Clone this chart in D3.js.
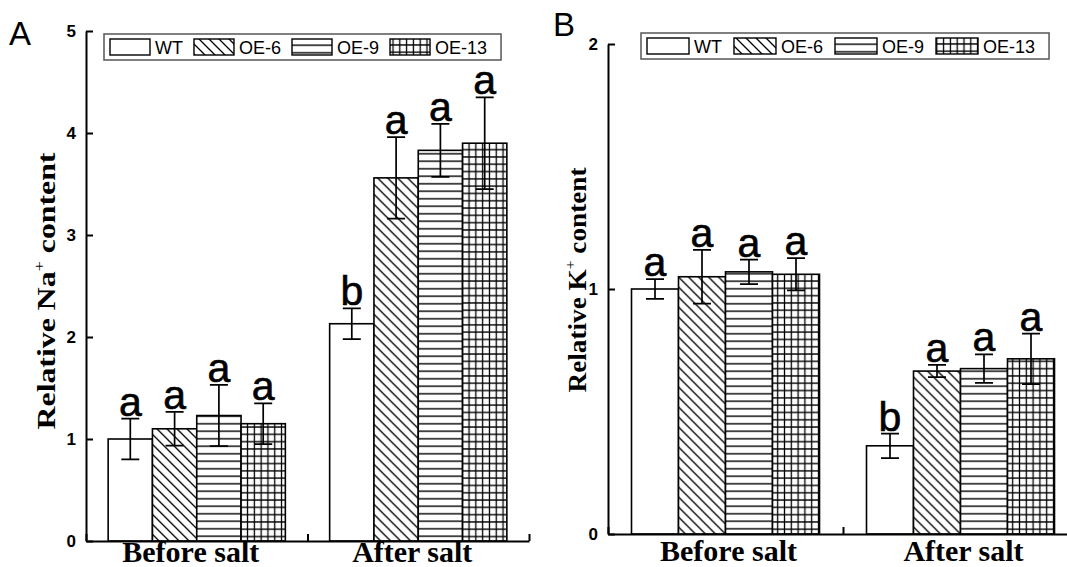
<!DOCTYPE html>
<html>
<head>
<meta charset="utf-8">
<script src="https://cdn.jsdelivr.net/npm/d3@7"></script>
<style>
  body { margin: 0; background: #fff; }
  svg { display: block; }
</style>
</head>
<body>
<svg id="chart" width="1067" height="567"></svg>
<script>
// ---- data ----
const groups = ["Before salt", "After salt"];
const lines = ["WT", "OE-6", "OE-9", "OE-13"];

// relative Na+ content (panel A)
const naMean = [[1.00, 1.10, 1.23, 1.15], [2.13, 3.56, 3.83, 3.90]];
const naErr = [[0.20, 0.165, 0.30, 0.20], [0.15, 0.40, 0.26, 0.45]];
const naSig = [["a", "a", "a", "a"], ["b", "a", "a", "a"]];
const naTicks = [0, 1, 2, 3, 4, 5];

// relative K+ content (panel B)
const kMean = [[1.00, 1.05, 1.07, 1.06], [0.36, 0.665, 0.675, 0.715]];
const kErr = [[0.04, 0.11, 0.05, 0.066], [0.05, 0.025, 0.058, 0.103]];
const kSig = [["a", "a", "a", "a"], ["b", "a", "a", "a"]];
const kTicks = [0, 1, 2];

const svg = d3.select("#chart");
const sansFont = "'Liberation Sans', Arial, sans-serif";
const serifFont = "'Liberation Serif', 'Times New Roman', serif";

// fill patterns, one per line
const defs = svg.append("defs");
const patternIds = ["none", "pat-diag", "pat-horiz", "pat-grid"];

let p = defs.append("pattern").attr("id", "pat-diag")
  .attr("patternUnits", "userSpaceOnUse").attr("width", 10).attr("height", 10);
p.append("rect").attr("width", 10).attr("height", 10).attr("fill", "#fff");
p.append("path").attr("d", "M0,0L10,10M-5,5L5,15M5,-5L15,5")
  .attr("stroke", "#000").attr("stroke-width", 1.3);

p = defs.append("pattern").attr("id", "pat-horiz")
  .attr("patternUnits", "userSpaceOnUse").attr("width", 10).attr("height", 7.5);
p.append("rect").attr("width", 10).attr("height", 7.5).attr("fill", "#fff");
p.append("path").attr("d", "M0,3.75H10").attr("stroke", "#000").attr("stroke-width", 1.4);

p = defs.append("pattern").attr("id", "pat-grid")
  .attr("patternUnits", "userSpaceOnUse").attr("width", 6.8).attr("height", 7.3);
p.append("rect").attr("width", 6.8).attr("height", 7.3).attr("fill", "#fff");
p.append("path").attr("d", "M0,3.6H6.8M3.4,0V7.3").attr("stroke", "#000").attr("stroke-width", 1.3);

function fillFor(i) {
  return i === 0 ? "#fff" : `url(#${patternIds[i]})`;
}

function drawPanel(cfg, means, errs, sig, ticks) {
  const g = svg.append("g");

  const y = d3.scaleLinear().domain([0, ticks[ticks.length - 1]]).range([cfg.yBottom, cfg.yTop]);
  const x = d3.scaleBand().domain(groups).range([cfg.xLeft, cfg.xRight])
    .paddingInner(0.2).paddingOuter(0.1);
  const xSub = d3.scaleBand().domain(lines).range([0, x.bandwidth()]);

  // bars
  groups.forEach((grp, gi) => {
    const gg = g.append("g").attr("transform", `translate(${x(grp)},0)`);
    lines.forEach((ln, li) => {
      const v = means[gi][li];
      gg.append("rect")
        .attr("x", xSub(ln))
        .attr("y", y(v))
        .attr("width", xSub.bandwidth())
        .attr("height", y(0) - y(v))
        .attr("fill", fillFor(li))
        .attr("stroke", "#000")
        .attr("stroke-width", 1.6);
    });
    // error bars and letters on top
    lines.forEach((ln, li) => {
      const v = means[gi][li], e = errs[gi][li];
      const cx = xSub(ln) + xSub.bandwidth() / 2;
      gg.append("path")
        .attr("d", `M${cx},${y(v - e)}V${y(v + e)}M${cx - 9},${y(v + e)}H${cx + 9}M${cx - 9},${y(v - e)}H${cx + 9}`)
        .attr("stroke", "#000").attr("stroke-width", 1.7).attr("fill", "none");
      gg.append("text")
        .attr("x", cx)
        .attr("y", y(v + e) - 3)
        .attr("text-anchor", "middle")
        .attr("font-family", sansFont)
        .attr("font-size", 41)
        .attr("stroke", "#000")
        .attr("stroke-width", 0.6)
        .text(sig[gi][li]);
    });
  });

  // y axis, ticks pointing inward
  const yAxis = d3.axisLeft(y).tickValues(ticks).tickFormat(d3.format("d"))
    .tickSizeInner(-7).tickSizeOuter(0).tickPadding(10);
  const ya = g.append("g").attr("transform", `translate(${cfg.xLeft},0)`).call(yAxis);
  ya.select(".domain").attr("stroke-width", 2);
  ya.selectAll(".tick line").attr("stroke-width", 2);
  ya.selectAll("text").attr("font-family", sansFont).attr("font-size", 17).attr("font-weight", "bold");

  // x axis with ticks at the group boundaries
  const xb = d3.scaleLinear().domain([0, groups.length]).range([cfg.xLeft, cfg.xRight]);
  const xAxis = d3.axisBottom(xb).tickValues(d3.range(groups.length + 1))
    .tickSizeInner(-7).tickSizeOuter(0).tickFormat("");
  const xa = g.append("g").attr("transform", `translate(0,${cfg.yBottom})`).call(xAxis);
  xa.select(".domain").attr("stroke-width", 2);
  xa.selectAll(".tick line").attr("stroke-width", 2);

  // group labels
  g.selectAll(".grp-label").data(groups).enter().append("text")
    .attr("class", "grp-label")
    .attr("x", d => x(d) + x.bandwidth() / 2 + cfg.grpDx)
    .attr("y", cfg.grpY)
    .attr("text-anchor", "middle")
    .attr("font-family", serifFont)
    .attr("font-weight", "bold")
    .attr("font-size", 30)
    .text(d => d);

  // y label with superscript, stretched along its length to the measured span
  const yl = g.append("text")
    .attr("text-anchor", "middle")
    .attr("font-family", serifFont)
    .attr("font-weight", "bold")
    .attr("font-size", 26);
  yl.append("tspan").text("Relative " + cfg.ion);
  yl.append("tspan").attr("dy", -11).attr("font-size", 15).attr("font-weight", "normal").text("+");
  yl.append("tspan").attr("dy", 11).text(" content");
  const natural = yl.node().getComputedTextLength();
  yl.attr("transform", `translate(${cfg.yLabelX},${cfg.yLabelY}) rotate(-90) scale(${cfg.yLabelLen / natural},1)`);

  // panel letter
  g.append("text")
    .attr("x", cfg.letterX).attr("y", cfg.letterY)
    .attr("font-family", sansFont).attr("font-size", 33)
    .text(cfg.letter);

  // legend
  const lg = g.append("g").attr("transform", `translate(${cfg.legX},${cfg.legY})`);
  const box = lg.append("rect")
    .attr("height", 26).attr("fill", "#fff")
    .attr("stroke", "#555").attr("stroke-width", 1.5);
  let cursor = 6;
  lines.forEach((ln, li) => {
    lg.append("rect")
      .attr("x", cursor).attr("y", 5)
      .attr("width", cfg.swW).attr("height", 16)
      .attr("fill", fillFor(li))
      .attr("stroke", "#000").attr("stroke-width", 1.4);
    cursor += cfg.swW + 5;
    const t = lg.append("text")
      .attr("x", cursor).attr("y", 20)
      .attr("font-family", sansFont).attr("font-size", 18)
      .text(ln);
    cursor += t.node().getComputedTextLength() + (li < lines.length - 1 ? cfg.itemGap : 14);
  });
  box.attr("width", cursor);
}

drawPanel({
  xLeft: 86, xRight: 529, yBottom: 541, yTop: 31,
  grpY: 562, grpDx: -6,
  yLabelX: 55, yLabelY: 291, yLabelLen: 277, ion: "Na",
  letter: "A", letterX: 9, letterY: 45,
  legX: 104, legY: 34, swW: 40, itemGap: 11
}, naMean, naErr, naSig, naTicks);

drawPanel({
  xLeft: 608, xRight: 1078, yBottom: 534, yTop: 44,
  grpY: 561, grpDx: 3,
  yLabelX: 586, yLabelY: 280, yLabelLen: 225, ion: "K",
  letter: "B", letterX: 553, letterY: 36,
  legX: 641, legY: 33, swW: 42, itemGap: 12
}, kMean, kErr, kSig, kTicks);
</script>
</body>
</html>
